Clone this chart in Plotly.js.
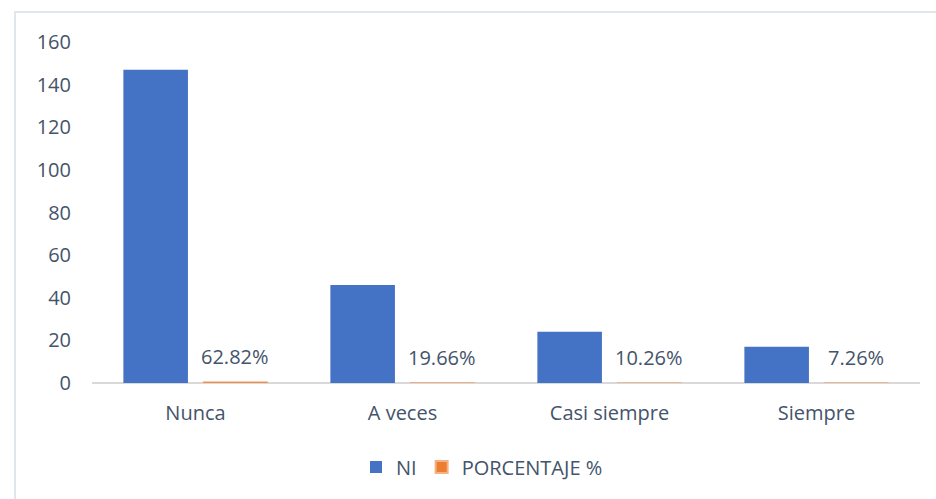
<!DOCTYPE html>
<html>
<head>
<meta charset="utf-8">
<script src="https://cdn.plot.ly/plotly-3.0.1.min.js"></script>
<style>
  html, body { margin: 0; padding: 0; background: #fff; }
  #wrap { position: relative; width: 936px; height: 499px; overflow: hidden; }
  #chart { position: absolute; left: 0; top: 0; width: 936px; height: 499px; }
  #frame { position: absolute; left: 14px; top: 11px; width: 960px; height: 520px;
           border-left: 2px solid #E1E5EC; border-top: 2px solid #E1E5EC; pointer-events: none; }
</style>
</head>
<body>
<div id="wrap">
  <div id="chart"></div>
  <div id="frame"></div>
</div>
<script>
const categories = ["Nunca", "A veces", "Casi siempre", "Siempre"];
const niValues = [147, 46, 24, 17];
const pctValues = [0.6282, 0.1966, 0.1026, 0.0726];
const pctLabels = ["62.82%", "19.66%", "10.26%", "7.26%"];
const yTicks = [0, 20, 40, 60, 80, 100, 120, 140, 160];

const textColor = "#44546A";
const font = { family: "Open Sans, sans-serif", size: 20, color: textColor };

const traces = [
  {
    type: "bar", name: "NI", x: categories, y: niValues,
    marker: { color: "#4472C4" }, hoverinfo: "skip"
  },
  {
    type: "bar", name: "PORCENTAJE %", x: categories, y: pctValues,
    marker: { color: "#ED7D31", line: { color: "#F4B183", width: 0.5 } }, hoverinfo: "skip"
  }
];

const annotations = categories.map((c, i) => ({
  x: c, y: pctValues[i], xref: "x", yref: "y",
  text: pctLabels[i], showarrow: false,
  xshift: 39.5, yshift: 25, yanchor: "middle", xanchor: "center",
  font: font
}));

const layout = {
  width: 936, height: 499,
  margin: { l: 92, r: 16, t: 42, b: 116 },
  paper_bgcolor: "#ffffff", plot_bgcolor: "#ffffff",
  font: font,
  barmode: "group", bargap: 0.23, bargroupgap: 0.19,
  showlegend: true,
  legend: {
    orientation: "h", x: 0.471, xanchor: "center", y: -0.246, yanchor: "middle",
    font: font, itemsizing: "constant"
  },
  xaxis: {
    type: "category", showgrid: false, showline: false, zeroline: false,
    ticks: "", ticklabelstandoff: 16, tickfont: font
  },
  yaxis: {
    range: [0, 160], tickvals: yTicks, ticktext: yTicks.map(String),
    showgrid: false, showline: false, zeroline: true,
    zerolinecolor: "#D9D9D9", zerolinewidth: 1.5,
    ticks: "", ticklabelstandoff: 20, tickfont: font
  },
  annotations: annotations
};

Plotly.newPlot("chart", traces, layout, { displayModeBar: false, staticPlot: true });
</script>
</body>
</html>
